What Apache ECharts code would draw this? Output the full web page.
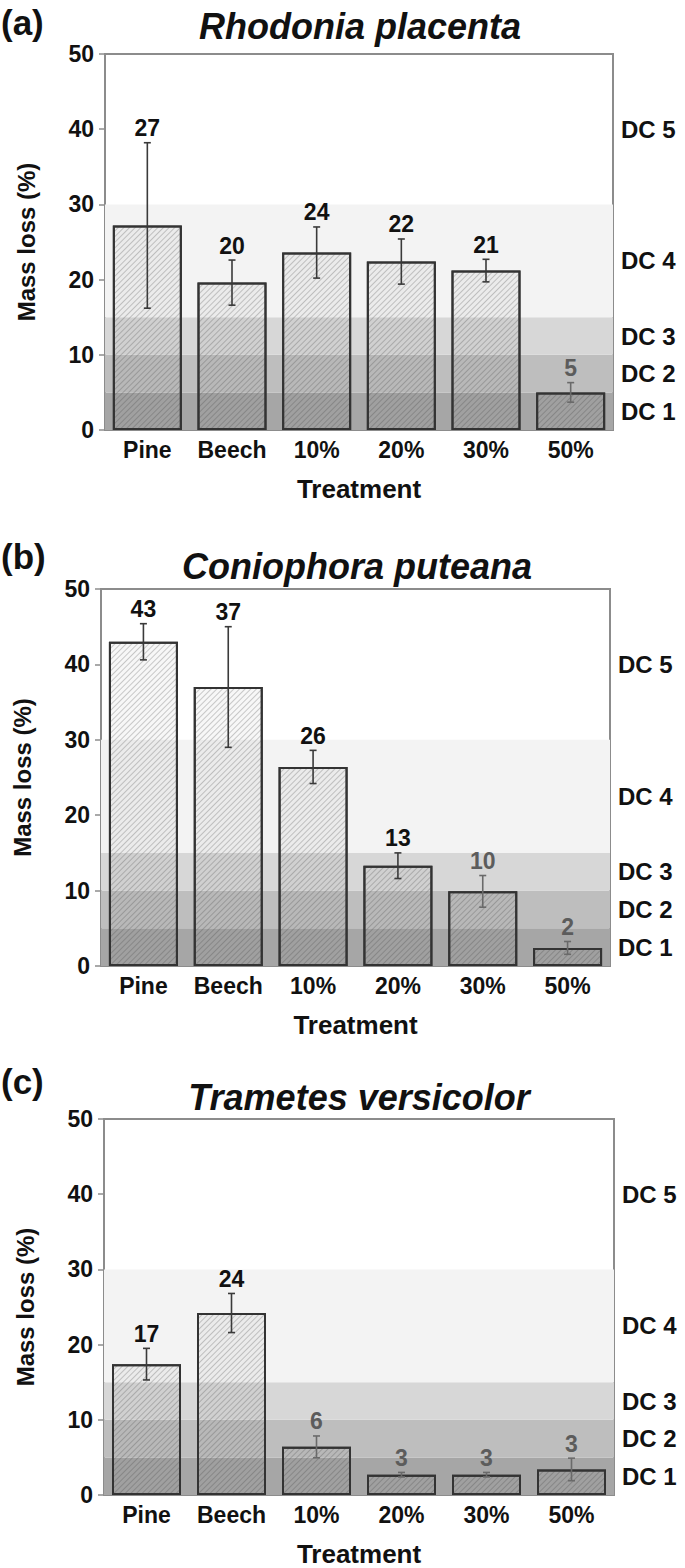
<!DOCTYPE html>
<html>
<head>
<meta charset="utf-8">
<script src="https://cdn.jsdelivr.net/npm/echarts@6/dist/echarts.min.js"></script>
<style>
  html, body { margin: 0; padding: 0; background: #ffffff; }
  #chart { width: 685px; height: 1568px; }
</style>
</head>
<body>
<div id="chart"></div>
<script>
// ---------------- DATA ----------------
const categories = ['Pine', 'Beech', '10%', '20%', '30%', '50%'];
const panelTags = ['(a)', '(b)', '(c)'];
const speciesTitles = ['Rhodonia placenta', 'Coniophora puteana', 'Trametes versicolor'];

const massLossA = [27.2, 19.6, 23.6, 22.4, 21.2, 5.0];
const errorA    = [11.0, 3.0, 3.4, 3.0, 1.5, 1.3];
const labelsA   = ['27', '20', '24', '22', '21', '5'];

const massLossB = [43.0, 37.0, 26.4, 13.3, 9.9, 2.4];
const errorB    = [2.4, 8.0, 2.2, 1.7, 2.1, 0.85];
const labelsB   = ['43', '37', '26', '13', '10', '2'];

const massLossC = [17.4, 24.2, 6.4, 2.7, 2.7, 3.4];
const errorC    = [2.1, 2.6, 1.45, 0.3, 0.3, 1.5];
const labelsC   = ['17', '24', '6', '3', '3', '3'];

const decayClassBounds = [[0, 5], [5, 10], [10, 15], [15, 30], [30, 50]];
const decayClassNames  = ['DC 1', 'DC 2', 'DC 3', 'DC 4', 'DC 5'];

const yMin = 0, yMax = 50, yInterval = 10;
const xAxisTitle = 'Treatment';
const yAxisTitle = 'Mass loss (%)';

// ---------------- STYLE / LAYOUT ----------------
const FONT = '"Liberation Sans", Arial, Helvetica, sans-serif';
const bandColors = ['#a6a6a6', '#bebebe', '#d7d7d7', '#f3f3f3', 'rgba(255,255,255,0)'];
const axisGray = '#8c8c8c';
const layout = [
  { left: 105, right: 72, top: 54,   height: 376, tagY: 22,   titleY: 26,   titleX: 360 },
  { left: 101, right: 75, top: 589,  height: 377, tagY: 556,  titleY: 566,  titleX: 357 },
  { left: 104, right: 71, top: 1119, height: 378, tagY: 1081, titleY: 1097, titleX: 359 }
];

const panels = [
  { mass: massLossA, err: errorA, labels: labelsA },
  { mass: massLossB, err: errorB, labels: labelsB },
  { mass: massLossC, err: errorC, labels: labelsC }
];

const chart = echarts.init(document.getElementById('chart'), null, { renderer: 'svg' });

const grids = [], xAxes = [], yAxes = [], series = [], graphics = [];

panels.forEach((p, k) => {
  const L = layout[k];
  grids.push({
    left: L.left, right: L.right, top: L.top, height: L.height,
    show: true, borderColor: axisGray, borderWidth: 2, containLabel: false
  });
  xAxes.push({
    type: 'category', gridIndex: k, data: categories,
    axisLine: { lineStyle: { color: axisGray, width: 2 } },
    axisTick: { show: false },
    axisLabel: { interval: 0, color: '#111', fontFamily: FONT, fontWeight: 'bold', fontSize: 23, margin: 8 },
    name: xAxisTitle, nameLocation: 'middle', nameGap: 46,
    nameTextStyle: { color: '#111', fontFamily: FONT, fontWeight: 'bold', fontSize: 26 }
  });
  yAxes.push({
    type: 'value', gridIndex: k, min: yMin, max: yMax, interval: yInterval,
    axisLine: { show: true, lineStyle: { color: axisGray, width: 2 } },
    axisTick: { show: true, length: 6, lineStyle: { color: axisGray, width: 1.5 } },
    splitLine: { show: false },
    axisLabel: { color: '#111', fontFamily: FONT, fontWeight: 'bold', fontSize: 23, margin: 11 },
    name: yAxisTitle, nameLocation: 'middle', nameGap: 67,
    nameTextStyle: { color: '#111', fontFamily: FONT, fontWeight: 'bold', fontSize: 24 }
  });

  // decay class bands
  series.push({
    type: 'line', xAxisIndex: k, yAxisIndex: k, z: 1,
    data: categories.map(() => null), showSymbol: false, silent: true,
    markArea: {
      silent: true,
      data: decayClassBounds.map((b, j) => [
        { yAxis: b[0], name: decayClassNames[j], itemStyle: { color: bandColors[j] } },
        { yAxis: b[1] }
      ]),
      label: {
        show: true, position: 'right', distance: 8, color: '#111',
        fontFamily: FONT, fontWeight: 'bold', fontSize: 24
      }
    }
  });

  // bars
  series.push({
    type: 'bar', xAxisIndex: k, yAxisIndex: k, z: 2,
    data: p.mass, barWidth: 69,
    itemStyle: {
      color: 'rgba(0,0,0,0.03)', borderColor: '#333', borderWidth: 2,
      decal: {
        symbol: 'rect', symbolSize: 1, color: 'rgba(60,60,60,0.26)',
        dashArrayX: [1, 0], dashArrayY: [1, 3], rotation: -Math.PI / 4
      }
    }
  });

  // error bars + value labels
  series.push({
    type: 'custom', xAxisIndex: k, yAxisIndex: k, z: 3,
    data: p.mass.map((m, i) => [i, m - p.err[i], m + p.err[i]]),
    renderItem: (params, api) => {
      const i = api.value(0), lo = api.value(1), hi = api.value(2);
      const a = api.coord([i, lo]);
      const b = api.coord([i, hi]);
      const x = a[0];
      const light = hi < 14;
      const col = light ? '#6a6a6a' : '#3a3a3a';
      const txtCol = light ? '#5c5c5c' : '#111';
      const cw = 3.5;
      return {
        type: 'group',
        children: [
          { type: 'line', shape: { x1: x, y1: a[1], x2: x, y2: b[1] }, style: { stroke: col, lineWidth: 1.6 } },
          { type: 'line', shape: { x1: x - cw, y1: a[1], x2: x + cw, y2: a[1] }, style: { stroke: col, lineWidth: 1.6 } },
          { type: 'line', shape: { x1: x - cw, y1: b[1], x2: x + cw, y2: b[1] }, style: { stroke: col, lineWidth: 1.6 } },
          {
            type: 'text',
            style: {
              text: p.labels[params.dataIndex], x: x, y: b[1] - 3,
              fill: txtCol, font: 'bold 23px ' + FONT,
              textAlign: 'center', textVerticalAlign: 'bottom',
              align: 'center', verticalAlign: 'bottom'
            }
          }
        ]
      };
    }
  });

  graphics.push({
    type: 'text', x: 1, y: L.tagY,
    style: {
      text: panelTags[k], fill: '#111', font: 'bold 35px ' + FONT,
      textAlign: 'left', textVerticalAlign: 'middle', align: 'left', verticalAlign: 'middle'
    }
  });
  graphics.push({
    type: 'text', x: L.titleX, y: L.titleY,
    style: {
      text: speciesTitles[k], fill: '#111', font: 'italic bold 36px ' + FONT,
      textAlign: 'center', textVerticalAlign: 'middle', align: 'center', verticalAlign: 'middle'
    }
  });
});

chart.setOption({
  animation: false,
  backgroundColor: '#ffffff',
  grid: grids,
  xAxis: xAxes,
  yAxis: yAxes,
  series: series,
  graphic: { elements: graphics }
});
</script>
</body>
</html>
